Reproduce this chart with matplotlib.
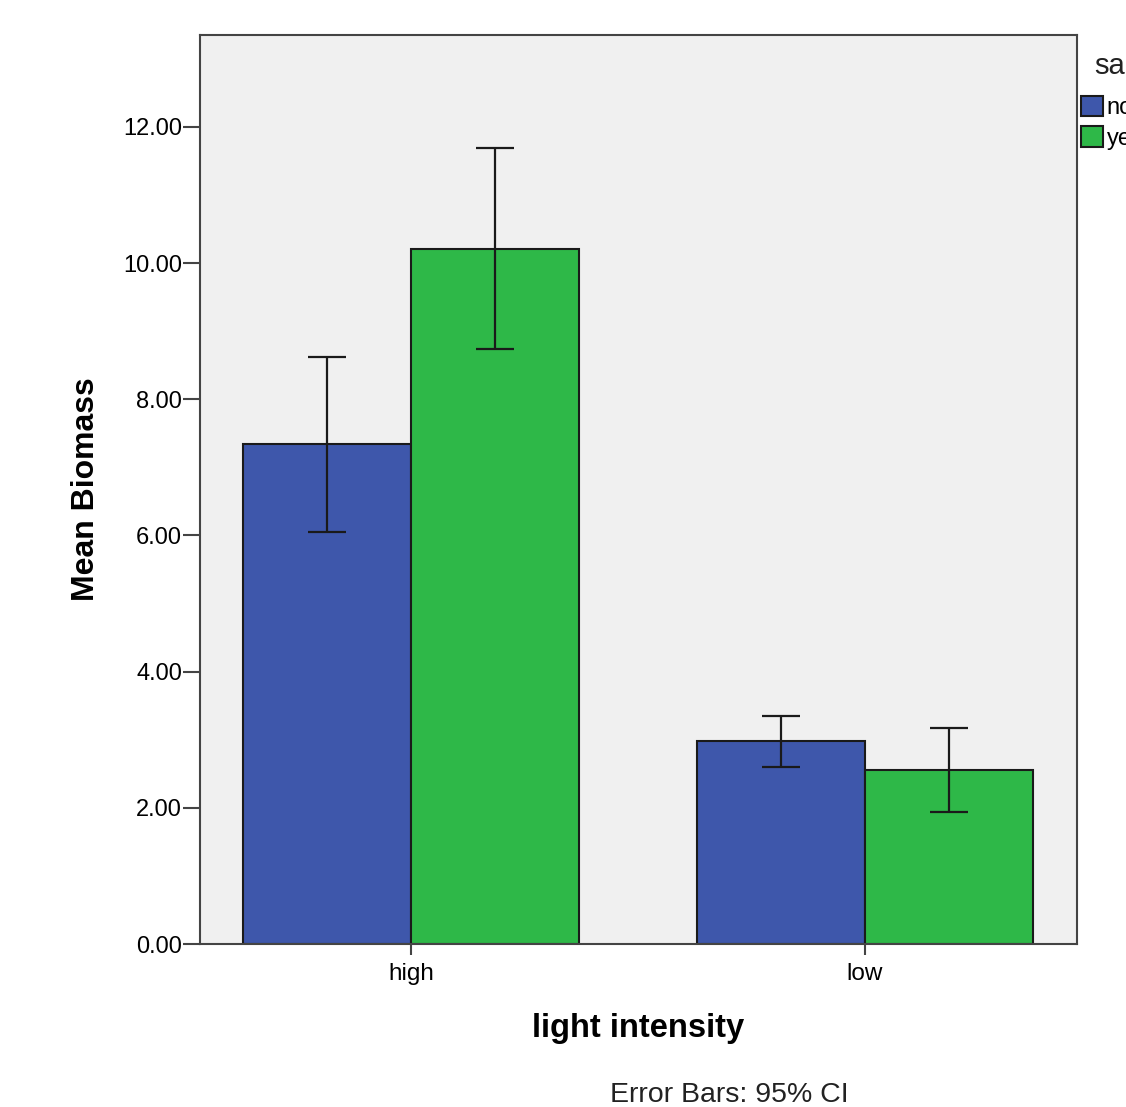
import numpy as np
import matplotlib
matplotlib.use("Agg")
import matplotlib.pyplot as plt

plt.rcParams['font.family'] = ['Liberation Sans', 'DejaVu Sans']

categories = ['high', 'low']
salt_groups = ['no', 'yes']
mean_no = [7.34, 2.98]
mean_yes = [10.21, 2.56]
ci_low_no = [6.05, 2.60]
ci_high_no = [8.62, 3.35]
ci_low_yes = [8.74, 1.94]
ci_high_yes = [11.69, 3.17]
yticks = [0, 2, 4, 6, 8, 10, 12]

fig = plt.figure(figsize=(11.26, 11.07), dpi=100)
ax = fig.add_axes([0.1776, 0.1472, 0.7789, 0.8212])
ax.set_facecolor('#f0f0f0')

x = np.arange(len(categories))
w = 0.37
blue = '#3e57ab'
green = '#2eb848'

means = [mean_no, mean_yes]
lows = [ci_low_no, ci_low_yes]
highs = [ci_high_no, ci_high_yes]
colors = [blue, green]
offsets = [-w / 2, w / 2]

handles = []
for k in range(2):
    m = np.array(means[k])
    err = [m - np.array(lows[k]), np.array(highs[k]) - m]
    b = ax.bar(x + offsets[k], m, width=w, color=colors[k], edgecolor='#1a1a1a',
               linewidth=1.5, label=salt_groups[k], zorder=2)
    handles.append(b)
    ax.errorbar(x + offsets[k], m, yerr=err, fmt='none', ecolor='#1a1a1a',
                elinewidth=1.6, capsize=14, capthick=1.6, zorder=3)

ax.set_xlim(-0.4648, 1.467)
ax.set_ylim(0, 13.35)
ax.set_yticks(yticks)
ax.set_yticklabels([f"{v:.2f}" for v in yticks])
ax.set_xticks(x)
ax.set_xticklabels(categories)
ax.tick_params(axis='y', length=12, width=1.5, color='#444444', labelsize=17, pad=1)
ax.tick_params(axis='x', length=8, width=1.5, color='#444444', labelsize=17.5, pad=6)
for s in ax.spines.values():
    s.set_color('#444444')
    s.set_linewidth(1.5)

ax.set_ylabel('Mean Biomass', fontsize=23, fontweight='bold', labelpad=16)
ax.set_xlabel('light intensity', fontsize=23.5, fontweight='bold', labelpad=20)
fig.text(0.648, 0.0108, 'Error Bars: 95% CI', fontsize=20.5, ha='center', va='center',
         color='#222222')

# legend sits partly outside the figure, as in the original export
fig.text(1094 / 1126, 1 - 66 / 1107, 'salt', fontsize=21, ha='left', va='center',
         color='#222222')
fig.legend(handles=handles, labels=salt_groups, loc='upper left',
           bbox_to_anchor=(1081 / 1126, 1 - 96 / 1107), frameon=False,
           fontsize=17, handlelength=0.93, handleheight=0.95, handletextpad=0.15,
           labelspacing=0.3, borderpad=0, borderaxespad=0)

fig.savefig('out.png', dpi=100)
